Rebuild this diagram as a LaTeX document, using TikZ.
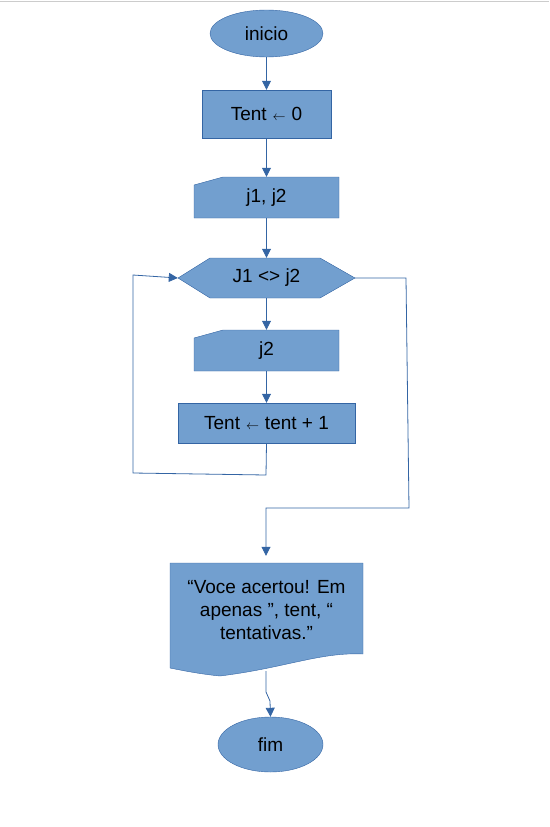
\documentclass[tikz,border=0pt]{standalone}
\usepackage{fontspec}
\setmainfont{Liberation Sans}
\usetikzlibrary{shapes.geometric,arrows.meta}

\definecolor{boxfill}{HTML}{729FCF}
\definecolor{boxline}{HTML}{3465A4}

\newcommand{\getsarrow}{\hspace{6pt}\scalebox{0.75}{$\leftarrow$}\hspace{6pt}}

\tikzset{
  txt/.style={inner sep=0pt, font=\fontsize{19}{23}\selectfont, align=center},
  term/.style={ellipse, draw=boxline, fill=boxfill, inner sep=0pt, txt},
  procbox/.style={rectangle, draw=boxline, fill=boxfill, txt},
  flow/.style={draw=boxline, line width=0.8pt, -{Triangle[width=9pt,length=9pt]}},
  plain/.style={draw=boxline, line width=0.8pt}
}

\begin{document}
\begin{tikzpicture}[x=1pt,y=-1pt]
\useasboundingbox (0,0) rectangle (549,827);
\draw[color=black!20, line width=1.2pt] (0,1.5) -- (549,1.5);

% start / end
\node[term, minimum width=113pt, minimum height=47pt] (inicio) at (266.5,33.5) {inicio};
\node[term, minimum width=105pt, minimum height=55pt] (fim) at (270.5,744.5) {fim};

% first assignment
\node[procbox, minimum width=129pt, minimum height=48pt] (tent_0) at (266.5,114) {Tent\getsarrow 0};

% manual input j1, j2
\fill[boxfill, draw=boxline] (194,185) -- (223,177) -- (339,177) -- (339,218) -- (194,218) -- cycle;
\node[txt, minimum width=145pt, minimum height=41pt] (in_1) at (266.5,197.5) {j1, j2};

% loop test
\fill[boxfill, draw=boxline] (178,278) -- (210,258) -- (320,258) -- (355,278) -- (320,298) -- (210,298) -- cycle;
\node[txt, minimum width=177pt, minimum height=40pt] (test) at (266.5,278) {J1 <> j2};

% manual input j2
\fill[boxfill, draw=boxline] (194,338) -- (223,330) -- (339,330) -- (339,371) -- (194,371) -- cycle;
\node[txt, minimum width=145pt, minimum height=41pt] (in_2) at (266.5,350.5) {j2};

% increment
\node[procbox, minimum width=177pt, minimum height=40pt] (tent_1) at (266.5,423) {Tent\getsarrow tent + 1};

% output document
\fill[boxfill, draw=boxline] (170,563) -- (363,563) -- (363,654)
  .. controls (320,652) and (285,668) .. (220,676)
  .. controls (200,674) and (185,671) .. (170,668) -- cycle;
\node[txt, minimum width=193pt, minimum height=107pt] (msg) at (266.5,609.5) {};
\node[txt] (msg_t) at (266.5,610) {“Voce acertou! Em\\apenas ”, tent, “\\tentativas.”};

% connectors
\path[flow] (inicio) -- (tent_0);
\path[flow] (tent_0) -- (in_1);
\path[flow] (in_1) -- (test);
\path[flow] (test) -- (in_2);
\path[flow] (in_2) -- (tent_1);

\coordinate (back_1) at (266,475);
\coordinate (back_2) at (133,473);
\coordinate (back_3) at (133,275);
\path[flow] (tent_1.south) -- (back_1) -- (back_2) -- (back_3) -- (test.west);

\coordinate (out_1) at (406,278);
\coordinate (out_2) at (409,508);
\coordinate (out_3) at (266,508);
\path[flow] (test.east) -- (out_1) -- (out_2) -- (out_3) -- (msg.north -| out_3);

\coordinate (end_1) at (266,692);
\coordinate (end_2) at (270,701);
\path[flow] (266,671) -- (end_1) -- (end_2) -- (fim.north);

\end{tikzpicture}
\end{document}
